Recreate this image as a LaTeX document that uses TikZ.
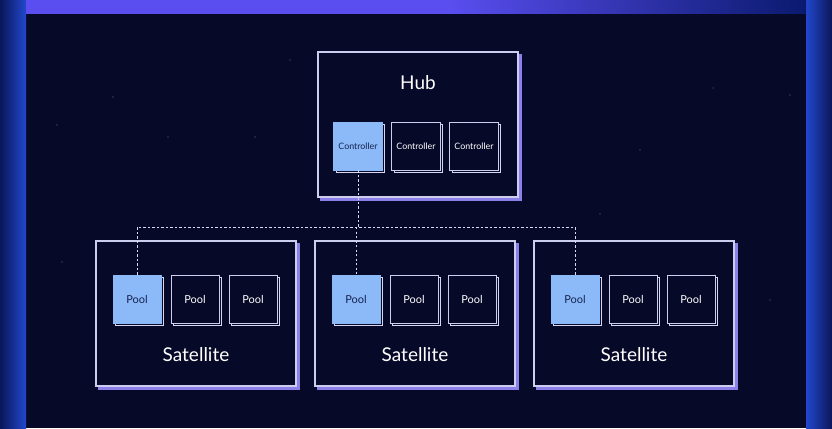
\documentclass[tikz,border=0pt]{standalone}
\usepackage{fontspec}
\setmainfont{Lato}
\definecolor{night}{RGB}{7,9,40}
\definecolor{edge}{RGB}{34,72,205}
\definecolor{edgedark}{RGB}{10,22,90}
\definecolor{bar}{RGB}{90,78,240}
\definecolor{bardark}{RGB}{10,26,110}
\definecolor{frame}{RGB}{205,205,240}
\definecolor{shade}{RGB}{140,128,232}
\definecolor{active}{RGB}{140,185,248}
\definecolor{ink}{RGB}{20,35,80}
\usetikzlibrary{
	positioning,
	shadows
}
\pgfdeclarehorizontalshading{barfade}{100bp}{color(0bp)=(bar); color(25bp)=(bar); color(52bp)=(bar); color(75bp)=(bardark); color(100bp)=(bardark)}
\tikzset{
  % boxes
	cstgroup/.style   ={draw=frame,fill=night,line width=0.8pt,minimum width=5cm,minimum height=3.625cm,
	                    copy shadow={shadow xshift=0.07cm,shadow yshift=-0.07cm,draw=shade,fill=shade,line width=1pt}},
	cstunit/.style    ={draw=frame,fill=night,line width=0.6pt,minimum width=1.2cm,minimum height=1.2cm,
	                    text=white,copy shadow={shadow xshift=0.06cm,shadow yshift=-0.06cm,draw=frame!80,fill=night,line width=0.6pt}},
	cstunit1/.style   ={cstunit,fill=active,draw=active,text=ink},
  % text
	csttitle/.style   ={text=white,font=\fontsize{13.5}{15}\selectfont},
	cstsmall/.style   ={font=\fontsize{6.3}{7}\selectfont},
	cstpool/.style    ={font=\fontsize{7.8}{9}\selectfont},
  % line
	cstdash/.style    ={draw=frame!75,line width=0.7pt,dash pattern=on 1.6pt off 1.6pt}
}
\begin{document}
\begin{tikzpicture}[x=0.025cm,y=-0.025cm]
	\useasboundingbox (0,0) rectangle (832,428);
	% background
	\fill[night] (0,0) rectangle (832,428);
	\shade[left color=edgedark,right color=edge] (0,0) rectangle (26,428);
	\shade[left color=edge,right color=edgedark] (806,0) rectangle (832,428);
	\shade[shading=barfade] (26,0) rectangle (806,13);
	\foreach \sx/\sy in {113/97,57/125,168/137,255/137,713/88,790/95,640/150,600/214,770/300,62/262,290/60,700/360}
		\fill[white!40!night] (\sx,\sy) circle (0.6);
	% hub
	\node[cstgroup] (hub) at (418,124.5) {};
	\node[csttitle] (hubtitle) at (418,83) {Hub};
	\node[cstunit1,cstsmall] (ctrlA) at (358,146) {Controller};
	\node[cstunit,cstsmall]  (ctrlB) at (416,146) {Controller};
	\node[cstunit,cstsmall]  (ctrlC) at (474,146) {Controller};
	% satellites
	\foreach \n/\x in {A/96,B/315,C/534}{
		\node[cstgroup] (sat\n) at (\x+100,313.5) {};
		\node[csttitle] (sat\n title) at (\x+100,355) {Satellite};
		\node[cstunit1,cstpool] (pool\n1) at (\x+41,299) {Pool};
		\node[cstunit,cstpool]  (pool\n2) at (\x+99,299) {Pool};
		\node[cstunit,cstpool]  (pool\n3) at (\x+157,299) {Pool};
	}
	% links
	\coordinate (bus) at (0,227);
	\draw[cstdash] (ctrlA.south) -- (ctrlA.south |- bus);
	\draw[cstdash] (poolA1.north) -- (poolA1.north |- bus) -- (poolC1.north |- bus) -- (poolC1.north);
	\draw[cstdash] (poolB1.north |- bus) -- (poolB1.north);
\end{tikzpicture}
\end{document}
